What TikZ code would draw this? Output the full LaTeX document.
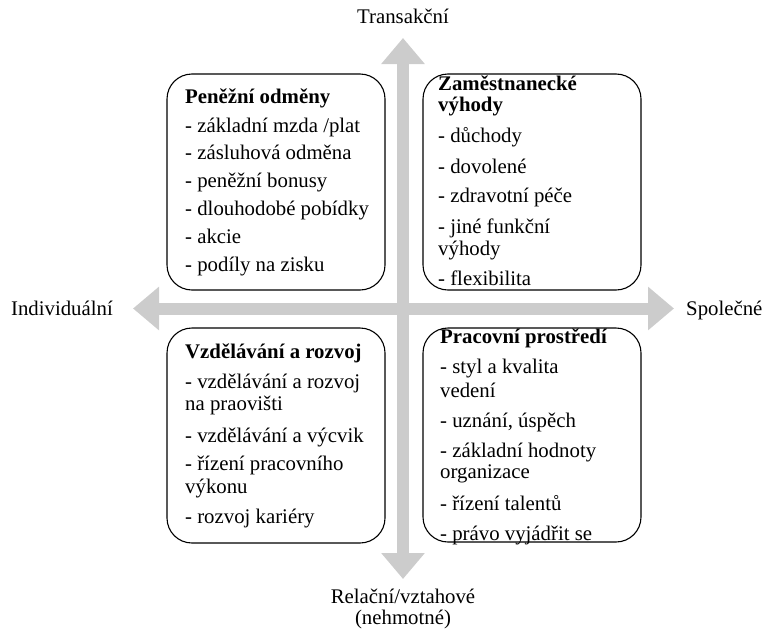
\documentclass[tikz,border=0pt]{standalone}
\usepackage{fontspec}
\setmainfont{Liberation Serif}
\usetikzlibrary{arrows.meta}
\definecolor{axisgray}{RGB}{204,204,204}
\tikzset{
  axisline/.style={line width=12pt, color=axisgray,
    {Triangle[width=42pt,length=26pt]}-{Triangle[width=42pt,length=26pt]}},
  qbox/.style={draw=black, line width=1.1pt, rounded corners=25pt, fill=white},
  ln/.style={anchor=west, inner sep=0pt, text height=14.5pt, text depth=4.5pt,
    font=\fontsize{20.8}{22}\selectfont},
  hd/.style={ln, font=\fontsize{20.8}{22}\selectfont\bfseries},
  axlabel/.style={inner sep=0pt, text height=14.5pt, text depth=4.5pt,
    font=\fontsize{20.8}{22}\selectfont}
}
\begin{document}
\begin{tikzpicture}[x=1pt,y=-1pt]
\useasboundingbox (0,0) rectangle (767,629);
% axes
\coordinate (vt) at (403,38);
\coordinate (vb) at (403,579);
\coordinate (hl) at (133,308.5);
\coordinate (hr) at (674,308.5);
\draw[axisline] (vb) -- (vt);
\draw[axisline] (hl) -- (hr);
% axis labels
\node[axlabel] (ltop) at (403,18) {Transakční};
\node[axlabel, anchor=east] (lleft) at (113,310) {Individuální};
\node[axlabel, anchor=west] (lright) at (686,310) {Společné};
\node[axlabel] (lbot1) at (403,598) {Relační/vztahové};
\node[axlabel] (lbot2) at (403,619) {(nehmotné)};
% boxes
\draw[qbox] (167,74) rectangle (385,290);
\draw[qbox] (423,74) rectangle (641,290);
\draw[qbox] (167,328) rectangle (385,543);
\draw[qbox] (423,328) rectangle (641,542);
% top-left
\node[hd] (tl0) at (185,98) {Peněžní odměny};
\node[ln] (tl1) at (185,127) {- základní mzda /plat};
\node[ln] (tl2) at (185,154) {- zásluhová odměna};
\node[ln] (tl3) at (185,182) {- peněžní bonusy};
\node[ln] (tl4) at (185,210) {- dlouhodobé pobídky};
\node[ln] (tl5) at (185,238) {- akcie};
\node[ln] (tl6) at (185,266) {- podíly na zisku};
% top-right
\node[hd] (tr0) at (438,85) {Zaměstnanecké};
\node[hd] (tr0b) at (438,106) {výhody};
\node[ln] (tr1) at (438,137) {- důchody};
\node[ln] (tr2) at (438,168) {- dovolené};
\node[ln] (tr3) at (438,197) {- zdravotní péče};
\node[ln] (tr4) at (438,228) {- jiné funkční};
\node[ln] (tr4b) at (438,250) {výhody};
\node[ln] (tr5) at (438,280) {- flexibilita};
% bottom-left
\node[hd] (bl0) at (185,353) {Vzdělávání a rozvoj};
\node[ln] (bl1) at (185,383) {- vzdělávání a rozvoj};
\node[ln] (bl1b) at (185,405) {na praovišti};
\node[ln] (bl2) at (185,437) {- vzdělávání a výcvik};
\node[ln] (bl3) at (185,465) {- řízení pracovního};
\node[ln] (bl3b) at (185,488) {výkonu};
\node[ln] (bl4) at (185,518) {- rozvoj kariéry};
% bottom-right
\node[hd] (br0) at (440,338) {Pracovní prostředí};
\node[ln] (br1) at (440,368) {- styl a kvalita};
\node[ln] (br1b) at (440,392) {vedení};
\node[ln] (br2) at (440,422) {- uznání, úspěch};
\node[ln] (br3) at (440,452) {- základní hodnoty};
\node[ln] (br3b) at (440,473) {organizace};
\node[ln] (br4) at (440,505) {- řízení talentů};
\node[ln] (br5) at (440,535) {- právo vyjádřit se};
\end{tikzpicture}
\end{document}
